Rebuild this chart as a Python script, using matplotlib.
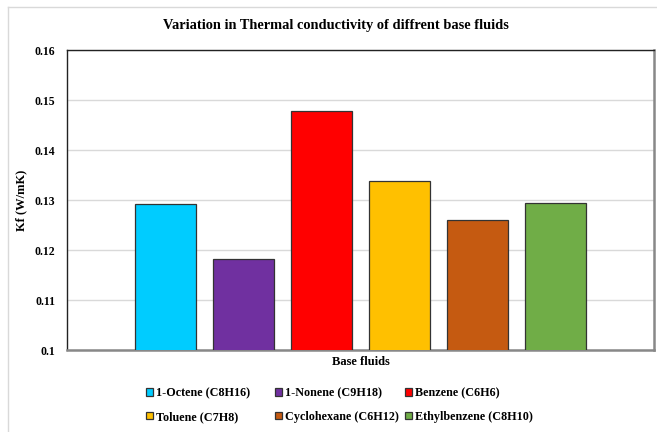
import matplotlib
matplotlib.use("Agg")
import matplotlib.pyplot as plt
from matplotlib.lines import Line2D

# Thermal conductivity of each base fluid (W/mK)
fluids = ["1-Octene (C8H16)", "1-Nonene (C9H18)", "Benzene (C6H6)",
          "Toluene (C7H8)", "Cyclohexane (C6H12)", "Ethylbenzene (C8H10)"]
kf_values = [0.1293, 0.1183, 0.1478, 0.1339, 0.1261, 0.1295]
bar_colors = ["#00CCFF", "#7030A0", "#FF0000", "#FFC000", "#C55A11", "#70AD47"]
y_ticks = [0.10, 0.11, 0.12, 0.13, 0.14, 0.15, 0.16]
y_tick_labels = ["0.1", "0.11", "0.12", "0.13", "0.14", "0.15", "0.16"]

plt.rcParams["font.family"] = ["Liberation Serif", "DejaVu Serif"]
plt.rcParams["font.weight"] = "bold"

W, H = 657, 432
fig = plt.figure(figsize=(W / 100, H / 100), dpi=100)

# outer chart frame (light gray)
fig.add_artist(Line2D([8 / W, 8 / W], [0, 1 - 7 / H], color="#D9D9D9", lw=1.0))
fig.add_artist(Line2D([8 / W, 1], [1 - 7 / H, 1 - 7 / H], color="#D9D9D9", lw=1.0))

left, right, top, bottom = 67, 654, 50, 350
ax = fig.add_axes([left / W, 1 - bottom / H, (right - left) / W, (bottom - top) / H])

positions = list(range(len(fluids)))
bars = ax.bar(positions, kf_values, width=0.79, color=bar_colors,
              edgecolor="#333333", linewidth=0.9, zorder=3)

ax.set_ylim(0.10, 0.16)
ax.set_xlim(2.5 - 3.763, 2.5 + 3.763)
ax.set_yticks(y_ticks)
ax.set_yticklabels(y_tick_labels, fontsize=8.5, fontweight="bold")
ax.set_xticks([])
ax.tick_params(axis="y", length=0, pad=8.5)
ax.grid(axis="y", color="#D9D9D9", lw=1.0, zorder=0)

ax.spines["top"].set_color("#222222")
ax.spines["left"].set_color("#222222")
ax.spines["right"].set_color("#888888")
ax.spines["bottom"].set_color("#888888")
ax.spines["top"].set_linewidth(1.0)
ax.spines["left"].set_linewidth(1.0)
ax.spines["right"].set_linewidth(1.8)
ax.spines["bottom"].set_linewidth(1.8)

ax.set_ylabel("Kf (W/mK)", fontsize=9, fontweight="bold")
ax.yaxis.set_label_coords((27 - left) / (right - left), 0.5)
ax.set_xlabel("Base fluids", fontsize=9, fontweight="bold", labelpad=4)

fig.text(335.5 / W, 1 - 25 / H, "Variation in Thermal conductivity of diffrent base fluids",
         ha="center", va="center", fontsize=10.4, fontweight="bold")

# legend: three equal-width columns, two rows
column_left = [146, 275, 405]
for col, x0 in enumerate(column_left):
    idx = [col, col + 3]
    fig.legend([bars[i] for i in idx], [fluids[i] for i in idx],
               loc="center left", bbox_to_anchor=(x0 / W, 1 - 405 / H),
               frameon=False, borderpad=0, borderaxespad=0,
               handlelength=0.55, handleheight=0.55,
               handletextpad=0.3, labelspacing=0.97,
               prop={"weight": "bold", "size": 8.7})

fig.savefig("out.png", dpi=100, facecolor="white")
